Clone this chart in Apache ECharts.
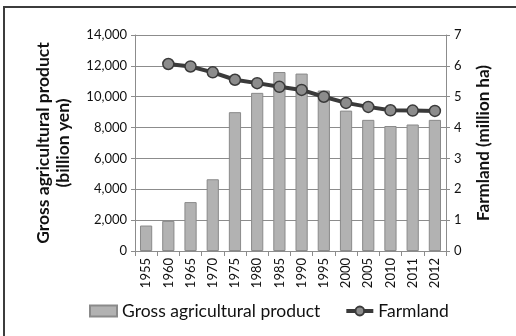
<!DOCTYPE html>
<html>
<head>
<meta charset="utf-8">
<script src="https://cdn.jsdelivr.net/npm/echarts@6/dist/echarts.min.js"></script>
<style>
  html, body { margin: 0; padding: 0; background: #fff; }
  #chart { width: 516px; height: 336px; }
</style>
</head>
<body>
<div id="chart"></div>
<script>
// Japanese agriculture: gross product (bars) and farmland area (line)
const years = ['1955', '1960', '1965', '1970', '1975', '1980', '1985', '1990', '1995', '2000', '2005', '2010', '2011', '2012'];
const grossProduct = [1650, 1950, 3170, 4650, 9000, 10250, 11600, 11500, 10400, 9100, 8500, 8100, 8200, 8500];
const farmland = [null, 6.06, 5.98, 5.79, 5.55, 5.44, 5.32, 5.22, 5.00, 4.80, 4.67, 4.56, 4.55, 4.54];
const leftTicks = { min: 0, max: 14000, interval: 2000 };
const rightTicks = { min: 0, max: 7, interval: 1 };

const FONT = 'Lato';
const chart = echarts.init(document.getElementById('chart'));

chart.setOption({
  animation: false,
  backgroundColor: '#fff',
  textStyle: { fontFamily: FONT },
  graphic: [{
    type: 'rect',
    shape: { x: 4, y: 7, width: 620, height: 420 },
    style: { fill: 'none', stroke: '#3c3c3c', lineWidth: 2 },
    silent: true
  }],
  grid: { left: 135, right: 70, top: 35, bottom: 85 },
  legend: {
    left: 89,
    top: 302,
    padding: 0,
    itemGap: 24,
    itemWidth: 27,
    itemHeight: 11,
    textStyle: { fontFamily: FONT, fontSize: 17.5, color: '#111' },
    data: [
      { name: 'Gross agricultural product', icon: 'rect' },
      { name: 'Farmland', lineStyle: { width: 4, color: '#3a3a3a' } }
    ]
  },
  xAxis: {
    type: 'category',
    data: years,
    boundaryGap: true,
    axisLine: { lineStyle: { color: '#8c8c8c', width: 1 } },
    axisTick: { show: true, length: 5, lineStyle: { color: '#8c8c8c' } },
    axisLabel: { rotate: 90, fontSize: 13, color: '#111', margin: 7, fontFamily: FONT }
  },
  yAxis: [{
    type: 'value',
    min: leftTicks.min, max: leftTicks.max, interval: leftTicks.interval,
    name: 'Gross agricultural product\n(billion yen)',
    nameLocation: 'middle',
    nameRotate: 90,
    nameGap: 62,
    nameTextStyle: { fontFamily: FONT, fontSize: 17.5, fontWeight: 'bold', color: '#111', lineHeight: 20 },
    axisLine: { show: true, lineStyle: { color: '#8c8c8c' } },
    axisTick: { show: true, length: 4, lineStyle: { color: '#8c8c8c' } },
    axisLabel: {
      fontSize: 13, color: '#111', margin: 8, fontFamily: FONT,
      formatter: v => v.toLocaleString('en-US')
    },
    splitLine: { lineStyle: { color: '#8c8c8c', width: 1 } }
  }, {
    type: 'value',
    position: 'right',
    min: rightTicks.min, max: rightTicks.max, interval: rightTicks.interval,
    name: 'Farmland (million ha)',
    nameLocation: 'middle',
    nameRotate: 90,
    nameGap: 29,
    nameTextStyle: { fontFamily: FONT, fontSize: 17, fontWeight: 'bold', color: '#111' },
    axisLine: { show: true, lineStyle: { color: '#8c8c8c' } },
    axisTick: { show: true, length: 4, lineStyle: { color: '#8c8c8c' } },
    axisLabel: { fontSize: 13, color: '#111', margin: 8, fontFamily: FONT },
    splitLine: { show: false }
  }],
  series: [{
    name: 'Gross agricultural product',
    type: 'bar',
    data: grossProduct,
    barCategoryGap: '45%',
    itemStyle: { color: '#b2b2b2', borderColor: '#8a8a8a', borderWidth: 1 }
  }, {
    name: 'Farmland',
    type: 'line',
    yAxisIndex: 1,
    data: farmland,
    symbol: 'circle',
    symbolSize: 11,
    lineStyle: { color: '#3a3a3a', width: 4 },
    itemStyle: { color: '#8c8c8c', borderColor: '#3a3a3a', borderWidth: 1.5 }
  }]
});
</script>
</body>
</html>
